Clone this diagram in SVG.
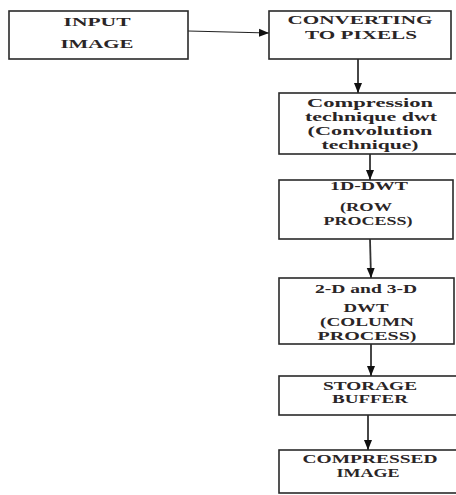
<svg xmlns="http://www.w3.org/2000/svg" width="456" height="495" viewBox="0 0 456 495">
<style>
.box{fill:#fff;stroke:#2a2a2a;stroke-width:1.6}
.t{font-family:"Liberation Serif","Times New Roman",serif;font-size:12px;font-weight:bold;fill:#2a2526;text-anchor:middle}
.c{stroke:#333;stroke-width:1.8;fill:none}
.h{stroke:#222;stroke-width:1.1;fill:none}
</style>
<defs>
<marker id="ah" markerUnits="userSpaceOnUse" markerWidth="10" markerHeight="10" viewBox="0 0 10 10" refX="10" refY="5" orient="auto">
<path d="M0,1 L10,5 L0,9 Z" fill="#111"/>
</marker>
</defs>
<rect width="456" height="495" fill="#fff"/>
<g id="connectors">
<line class="h" x1="188" y1="31" x2="269" y2="33" marker-end="url(#ah)"/>
<line class="c" x1="358" y1="59" x2="358" y2="93" marker-end="url(#ah)"/>
<line class="c" x1="370" y1="154" x2="370" y2="180" marker-end="url(#ah)"/>
<line class="c" x1="370" y1="239" x2="371" y2="278" marker-end="url(#ah)"/>
<line class="c" x1="371" y1="344" x2="371" y2="376" marker-end="url(#ah)"/>
<line class="c" x1="368" y1="415" x2="368" y2="450" marker-end="url(#ah)"/>
</g>
<g id="input-image">
<rect class="box" x="9" y="11" width="179" height="48"/>
<text class="t" x="97" y="26" textLength="67" lengthAdjust="spacingAndGlyphs">INPUT</text>
<text class="t" x="97" y="48" textLength="73" lengthAdjust="spacingAndGlyphs">IMAGE</text>
</g>
<g id="converting">
<rect class="box" x="269" y="11" width="182" height="48"/>
<text class="t" x="360" y="24" textLength="145" lengthAdjust="spacingAndGlyphs">CONVERTING</text>
<text class="t" x="361" y="39" textLength="112" lengthAdjust="spacingAndGlyphs">TO PIXELS</text>
</g>
<g id="compression">
<rect class="box" x="279" y="93" width="190" height="61"/>
<text class="t" x="370" y="107" textLength="126" lengthAdjust="spacingAndGlyphs">Compression</text>
<text class="t" x="371" y="121" textLength="132" lengthAdjust="spacingAndGlyphs">technique dwt</text>
<text class="t" x="370" y="135" textLength="125" lengthAdjust="spacingAndGlyphs">(Convolution</text>
<text class="t" x="370" y="149" textLength="97" lengthAdjust="spacingAndGlyphs">technique)</text>
</g>
<g id="dwt-1d">
<rect class="box" x="279" y="180" width="174" height="59"/>
<text class="t" x="369" y="190" textLength="78" lengthAdjust="spacingAndGlyphs">1D-DWT</text>
<text class="t" x="366" y="211" textLength="52" lengthAdjust="spacingAndGlyphs">(ROW</text>
<text class="t" x="368" y="225" textLength="89" lengthAdjust="spacingAndGlyphs">PROCESS)</text>
</g>
<g id="dwt-2d-3d">
<rect class="box" x="279" y="278" width="175" height="66"/>
<text class="t" x="366" y="293" textLength="102" lengthAdjust="spacingAndGlyphs">2-D and 3-D</text>
<text class="t" x="366" y="312" textLength="45" lengthAdjust="spacingAndGlyphs">DWT</text>
<text class="t" x="367" y="326" textLength="94" lengthAdjust="spacingAndGlyphs">(COLUMN</text>
<text class="t" x="367" y="340" textLength="99" lengthAdjust="spacingAndGlyphs">PROCESS)</text>
</g>
<g id="storage-buffer">
<rect class="box" x="279" y="376" width="190" height="39"/>
<text class="t" x="370" y="390" textLength="94" lengthAdjust="spacingAndGlyphs">STORAGE</text>
<text class="t" x="370" y="403" textLength="76" lengthAdjust="spacingAndGlyphs">BUFFER</text>
</g>
<g id="compressed-image">
<rect class="box" x="279" y="450" width="190" height="43"/>
<text class="t" x="370" y="463" textLength="135" lengthAdjust="spacingAndGlyphs">COMPRESSED</text>
<text class="t" x="368" y="477" textLength="63" lengthAdjust="spacingAndGlyphs">IMAGE</text>
</g>
</svg>
